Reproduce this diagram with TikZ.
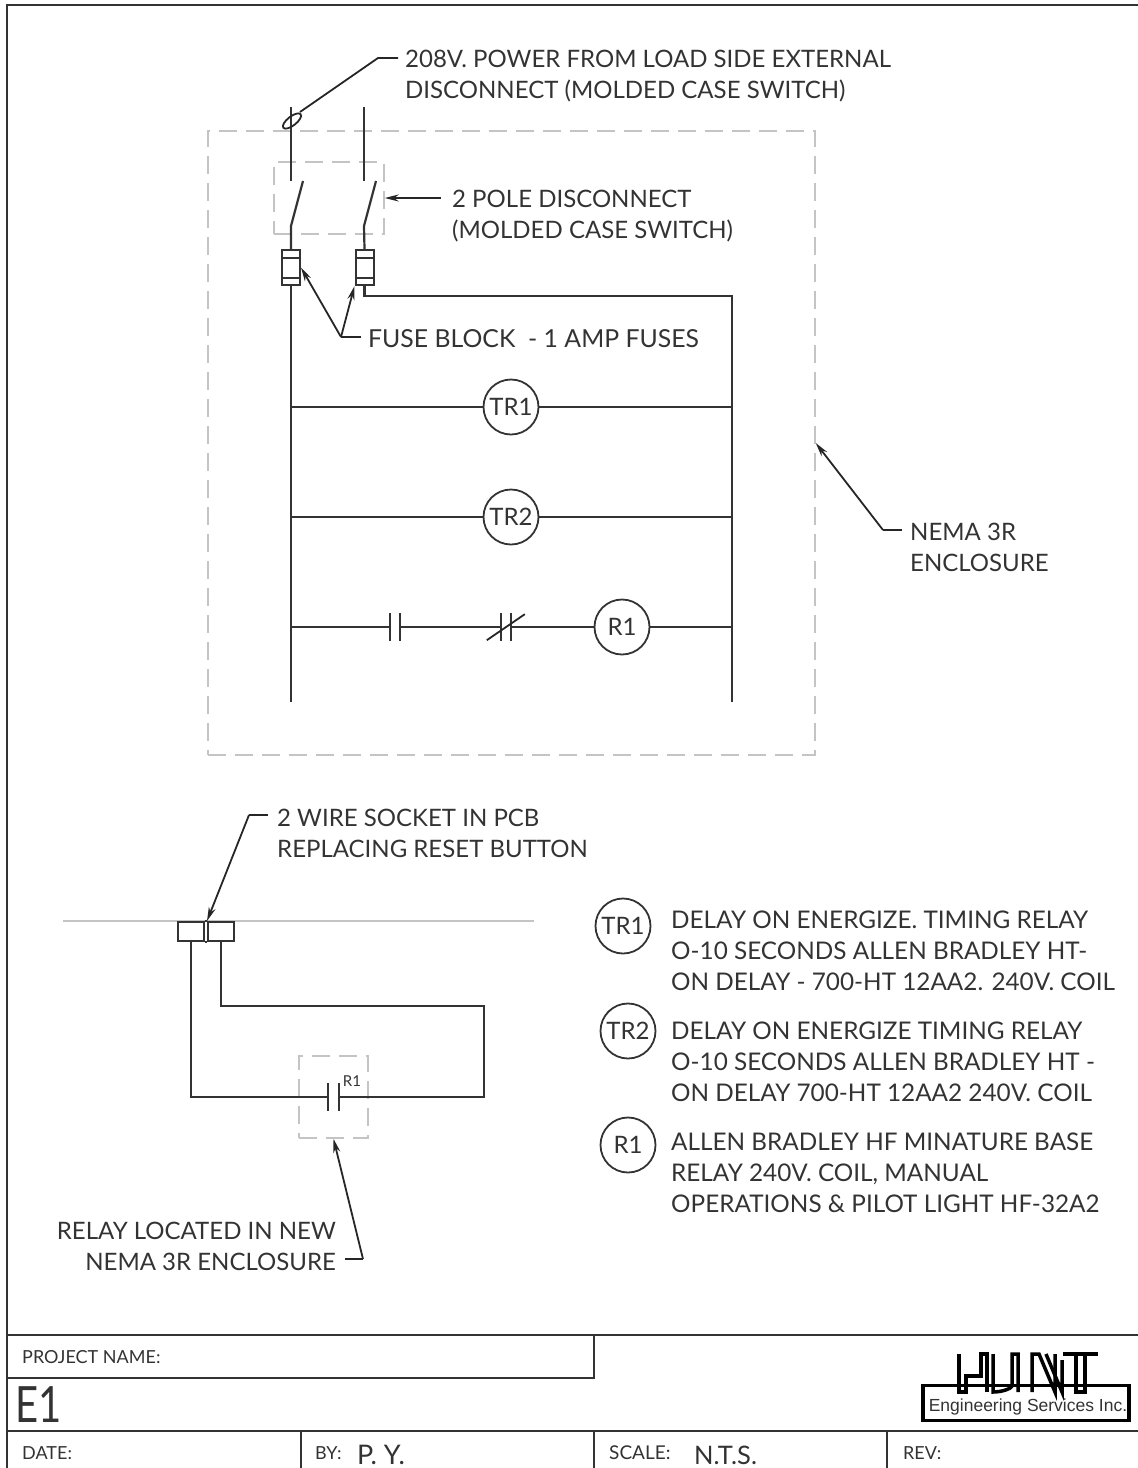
\documentclass[tikz,border=0pt]{standalone}
\usepackage{fontspec}
\setmainfont{Lato}
\newfontfamily\logofont{Liberation Sans}
\usepackage{xcolor}
\definecolor{DarkGrey}{HTML}{333333}
\definecolor{DashGrey}{HTML}{C4C4C4}
\usepackage{tikz}
\usetikzlibrary{arrows.meta,positioning}
\newcommand\NoteSize{\fontsize{24}{31}\selectfont}
\newcommand\KeySize{\fontsize{24.3}{31}\selectfont}
\newcommand\SmallSize{\fontsize{18}{20}\selectfont}
\tikzstyle{wire}=[draw=DarkGrey,line width=2.2pt]
\tikzstyle{leader}=[draw=black!85,line width=1.8pt,-{Stealth[length=14pt,width=7pt]}]
\tikzstyle{plain}=[draw=black!85,line width=1.8pt]
\tikzstyle{frame}=[draw=DarkGrey,line width=2.2pt]
\tikzstyle{dashbox}=[rectangle,draw=DashGrey,line width=1.5pt,dash pattern=on 18pt off 9pt,inner sep=0pt]
\tikzstyle{notetext}=[anchor=west,align=left,inner sep=0pt,text=DarkGrey,font=\NoteSize]
\tikzstyle{blocktext}=[anchor=west,inner sep=0pt,text=DarkGrey,font=\SmallSize]
\tikzstyle{coil}=[circle,draw=DarkGrey,line width=1.8pt,fill=white,minimum size=55pt,inner sep=0pt,text=DarkGrey,font=\fontsize{24}{26}\selectfont]
\tikzstyle{fuse}=[rectangle,draw=DarkGrey,line width=2pt,minimum width=18pt,minimum height=35pt,inner sep=0pt]
\tikzstyle{contact}=[rectangle,minimum width=10pt,minimum height=28pt,inner sep=0pt]
\tikzstyle{socket}=[rectangle,draw=DarkGrey,line width=2pt,minimum width=26pt,minimum height=19pt,inner sep=0pt]
\tikzstyle{logostroke}=[draw=black,line width=3.5pt]
\begin{document}
\begin{tikzpicture}[x=1pt,y=-1pt]
      \useasboundingbox (0,0) rectangle (1138,1468);
      % enclosures
      \node[dashbox,minimum width=607pt,minimum height=624pt] (enclosure) at (511.5,443) {};
      \node[dashbox,minimum width=110pt,minimum height=72pt] (swbox) at (329,198) {};
      \node[dashbox,minimum width=69pt,minimum height=82pt] (relaybox) at (333.5,1097) {};
      % upper schematic
      \coordinate (feedL) at (291,107);
      \coordinate (feedR) at (364,107);
      \coordinate (openL) at (291,181);
      \coordinate (openR) at (364,181);
      \coordinate (bladeLa) at (291,226);
      \coordinate (bladeLb) at (303,181);
      \coordinate (bladeRa) at (364,226);
      \coordinate (bladeRb) at (376,181);
      \node[fuse] (fuseL) at (291,267.5) {};
      \node[fuse] (fuseR) at (364.5,267.5) {};
      \foreach \f in {fuseL,fuseR} {
         \draw[wire] (\f.north west) ++(0,9) -- ++(18,0);
         \draw[wire] (\f.south west) ++(0,-8) -- ++(18,0);
      }
      \coordinate (railL) at (291,702);
      \coordinate (railR) at (732,702);
      \coordinate (jog) at (732,296);
      \draw[wire] (feedL) -- (openL);
      \draw[wire] (feedR) -- (openR);
      \draw[wire] (fuseL.north) -- (bladeLa) -- (bladeLb);
      \draw[wire] (fuseR.north) -- (bladeRa) -- (bladeRb);
      \draw[wire] (fuseL.south) -- (railL);
      \draw[wire] (fuseR.south) |- (jog) -- (railR);
      \node[coil] (coilTRa) at (511,407) {TR1};
      \node[coil] (coilTRb) at (511,517) {TR2};
      \node[coil] (coilR) at (622,627) {R1};
      \node[contact] (cno) at (395,627) {};
      \node[contact] (cnc) at (506,627) {};
      \draw[wire] (railL |- coilTRa) -- (coilTRa) -- (railR |- coilTRa);
      \draw[wire] (railL |- coilTRb) -- (coilTRb) -- (railR |- coilTRb);
      \draw[wire] (railL |- cno) -- (cno.west);
      \draw[wire] (cno.east) -- (cnc.west);
      \draw[wire] (cnc.east) -- (coilR);
      \draw[wire] (coilR) -- (railR |- coilR);
      \foreach \c in {cno,cnc} {
         \draw[wire] (\c.north west) -- (\c.south west);
         \draw[wire] (\c.north east) -- (\c.south east);
      }
      \draw[plain] (cnc.south west) ++(-14,-1) -- ++(38,-26);
      % upper notes
      \node[notetext] (notePower) at (405,76) {208V. POWER FROM LOAD SIDE EXTERNAL\\DISCONNECT (MOLDED CASE SWITCH)};
      \node[notetext] (notePole) at (452,216) {2 POLE DISCONNECT\\(MOLDED CASE SWITCH)};
      \node[notetext,font=\fontsize{24.8}{31}\selectfont] (noteFuse) at (368,339) {FUSE BLOCK\ \ - 1 AMP FUSES};
      \node[notetext] (noteNema) at (910,547) {NEMA 3R\\ENCLOSURE};
      \coordinate (powerEnd) at (398,58);
      \coordinate (powerKnee) at (378,58);
      \coordinate (powerLoop) at (300,112);
      \draw[plain] (powerEnd) -- (powerKnee) -- (powerLoop);
      \draw[plain,rotate around={38:(292,121)}] (292,121) ellipse (11 and 4.5);
      \coordinate (poleEnd) at (441,198);
      \draw[leader] (poleEnd) -- (swbox.east);
      \coordinate (fuseEnd) at (361,337);
      \coordinate (fuseKnee) at (341,337);
      \draw[plain] (fuseEnd) -- (fuseKnee);
      \draw[leader] (fuseKnee) -- (fuseL.east);
      \draw[leader] (fuseKnee) -- (fuseR.south west);
      \coordinate (nemaEnd) at (902,530);
      \coordinate (nemaKnee) at (883,530);
      \draw[plain] (nemaEnd) -- (nemaKnee);
      \draw[leader] (nemaKnee) -- (enclosure.east);
      % lower schematic
      \coordinate (pcbL) at (63,921);
      \coordinate (pcbR) at (534,921);
      \draw[draw=DashGrey,line width=1.5pt] (pcbL) -- (pcbR);
      \node[socket] (sockL) at (191,931.5) {};
      \node[socket] (sockR) at (221,931.5) {};
      \draw[wire] (sockL.north east) -- (sockR.north west);
      \draw[wire] (sockL.south east) -- (sockR.south west);
      \node[contact] (relayNO) at (333.5,1097) {};
      \coordinate (loopA) at (221,1006);
      \coordinate (loopB) at (484,1006);
      \coordinate (loopC) at (484,1097);
      \draw[wire] (sockL.south) |- (relayNO.west);
      \draw[wire] (sockR.south) -- (loopA) -- (loopB) -- (loopC) -- (relayNO.east);
      \draw[wire] (relayNO.north west) -- (relayNO.south west);
      \draw[wire] (relayNO.north east) -- (relayNO.south east);
      \node[blocktext,font=\fontsize{15}{16}\selectfont,anchor=center] (relayTag) at (352,1081) {R1};
      \node[notetext] (noteSocket) at (277,833.5) {2 WIRE SOCKET IN PCB\\REPLACING RESET BUTTON};
      \node[notetext,align=right,anchor=east] (noteRelay) at (336,1246.5) {RELAY LOCATED IN NEW\\NEMA 3R ENCLOSURE};
      \coordinate (socketEnd) at (268,815);
      \coordinate (socketKnee) at (249,815);
      \coordinate (socketTip) at (207,921);
      \draw[plain] (socketEnd) -- (socketKnee);
      \draw[leader] (socketKnee) -- (socketTip);
      \coordinate (relayEnd) at (345,1259);
      \coordinate (relayKnee) at (363,1259);
      \draw[plain] (relayEnd) -- (relayKnee);
      \draw[leader] (relayKnee) -- (relaybox.south);
      % legend
      \node[coil] (keyTRa) at (623,926) {TR1};
      \node[coil] (keyTRb) at (628,1031) {TR2};
      \node[coil] (keyR) at (628,1145) {R1};
      \node[notetext,font=\KeySize] (textTRa) at (671,950.5) {DELAY ON ENERGIZE. TIMING RELAY\\O-10 SECONDS ALLEN BRADLEY HT-\\ON DELAY - 700-HT 12AA2. 240V. COIL};
      \node[notetext,font=\KeySize] (textTRb) at (671,1061.5) {DELAY ON ENERGIZE TIMING RELAY\\O-10 SECONDS ALLEN BRADLEY HT -\\ON DELAY 700-HT 12AA2 240V. COIL};
      \node[notetext,font=\KeySize] (textR) at (671,1172.5) {ALLEN BRADLEY HF MINATURE BASE\\RELAY 240V. COIL, MANUAL\\OPERATIONS \& PILOT LIGHT HF-32A2};
      % title block
      \draw[frame] (7,1468) -- (7,5) -- (1138,5);
      \draw[frame] (7,1335) -- (1138,1335);
      \draw[frame] (7,1378) -- (594,1378) -- (594,1335);
      \draw[frame] (7,1431) -- (1138,1431);
      \draw[frame] (301,1431) -- (301,1468);
      \draw[frame] (594,1431) -- (594,1468);
      \draw[frame] (887,1431) -- (887,1468);
      \node[blocktext] (project) at (22,1357) {PROJECT NAME:};
      \node[blocktext,font=\fontsize{50}{50}\selectfont] (sheet) at (15,1405) {\scalebox{0.8}[1]{E1}};
      \node[blocktext] (date) at (22,1453) {DATE:};
      \node[blocktext] (by) at (315,1453) {BY:};
      \node[blocktext,font=\fontsize{27}{28}\selectfont] (byName) at (357,1455) {P. Y.};
      \node[blocktext,font=\fontsize{19}{20}\selectfont] (scale) at (609,1453) {SCALE:};
      \node[blocktext,font=\fontsize{25.5}{27}\selectfont] (scaleVal) at (694,1455) {N.T.S.};
      \node[blocktext] (rev) at (903,1453) {REV:};
      % logo
      \draw[logostroke] (959,1354) -- (959,1392) -- (966,1392) -- (966,1376) -- (981,1376) -- (981,1354) -- (987,1354) -- (987,1392);
      \draw[logostroke] (993,1354) -- (993,1392) .. controls (1003,1392) and (1012,1388) .. (1012,1386) -- (1012,1354) -- (1018,1354) -- (1018,1392);
      \draw[logostroke] (1032,1392) -- (1032,1354) -- (1039,1354) -- (1055,1392) -- (1055,1354);
      \draw[logostroke] (1046,1354) -- (1062,1392) -- (1062,1360);
      \draw[logostroke] (1063,1354) -- (1098,1354);
      \draw[logostroke] (1076,1354) -- (1076,1392) -- (1085,1392) -- (1085,1354);
      \node[rectangle,logostroke,minimum width=206pt,minimum height=35pt,inner sep=0pt] (logo) at (1026,1403) {};
      \node[inner sep=0pt,text=DarkGrey,font=\logofont\fontsize{17.5}{20}\selectfont] (logoText) at (1028,1407) {Engineering Services Inc.};
   \end{tikzpicture}
\end{document}
